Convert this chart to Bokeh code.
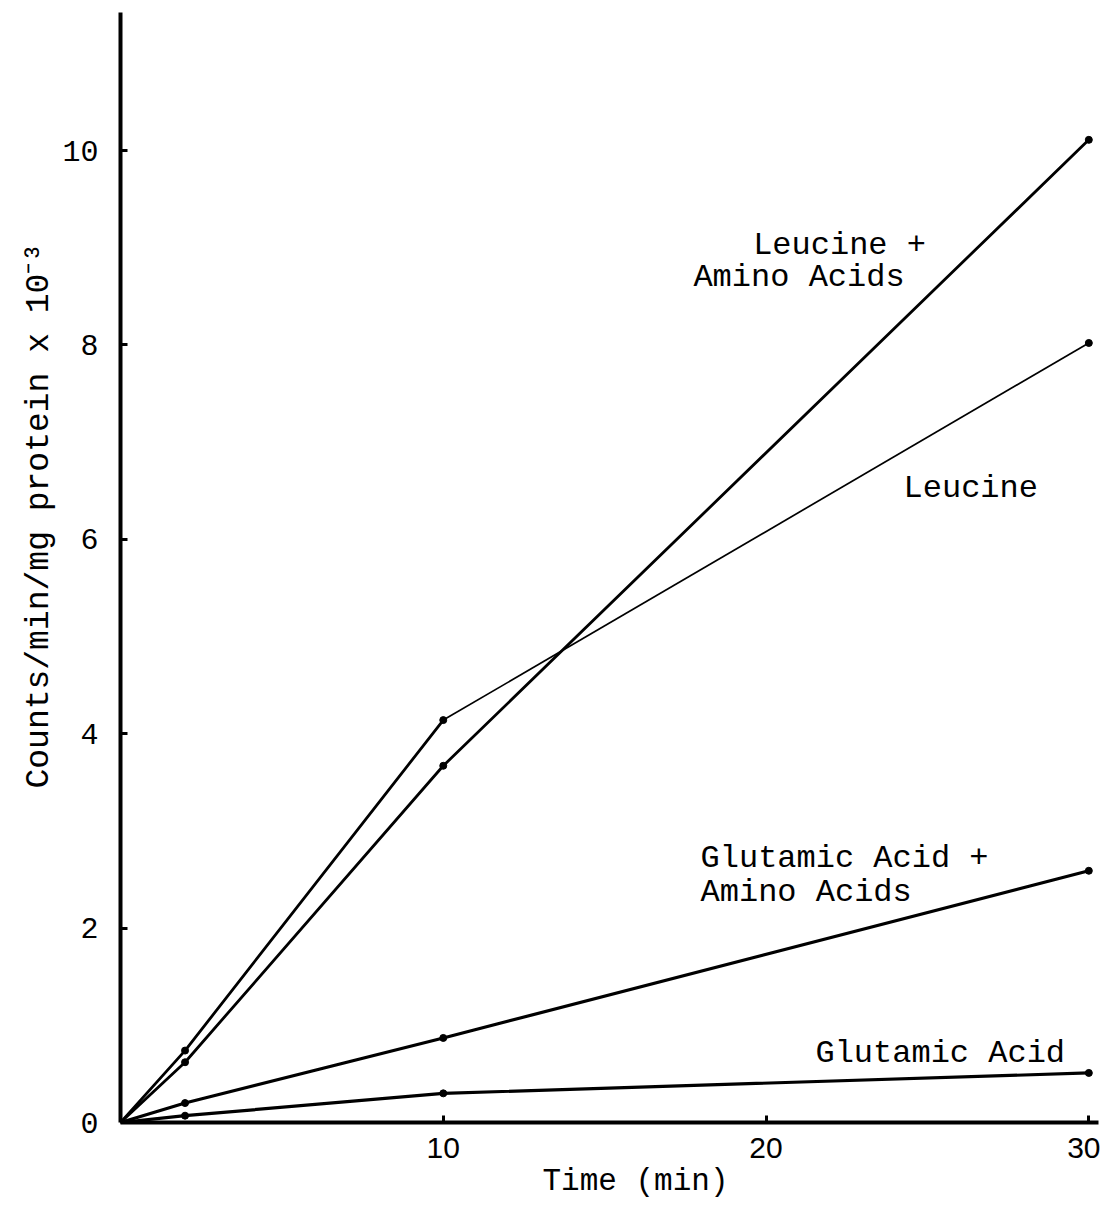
from bokeh.plotting import figure
from bokeh.models import Range1d, FixedTicker, Label, ColumnDataSource, Title
from bokeh.embed import file_html
from bokeh.resources import INLINE

# ---- data ----
time_min = [0, 2, 10, 30]
leucine = [0, 0.74, 4.14, 8.02]
leucine_aa = [0, 0.62, 3.67, 10.11]
glutamic_aa = [0, 0.20, 0.87, 2.59]
glutamic = [0, 0.07, 0.30, 0.51]

x_ticks = [10, 20, 30]
y_ticks = [0, 2, 4, 6, 8, 10]

FONT = "Liberation Mono"

p = figure(width=1100, height=1210, output_backend="svg", toolbar_location=None,
           x_range=Range1d(0, 30.3), y_range=Range1d(0, 11.42),
           min_border_left=120, min_border_right=2, min_border_top=12, min_border_bottom=88)
p.outline_line_color = None
p.xgrid.visible = False
p.ygrid.visible = False
p.background_fill_color = "white"
p.border_fill_color = "white"

for ax in (p.xaxis[0], p.yaxis[0]):
    ax.axis_line_width = 4
    ax.axis_line_color = "black"
    ax.major_tick_in = 7
    ax.major_tick_out = 0
    ax.major_tick_line_width = 3
    ax.minor_tick_line_color = None
    ax.major_label_text_color = "black"

p.xaxis.ticker = FixedTicker(ticks=x_ticks)
p.yaxis.ticker = FixedTicker(ticks=y_ticks)
p.xaxis.major_label_text_font = "Liberation Sans"
p.xaxis.major_label_text_font_size = "30px"
p.yaxis.major_label_text_font = FONT
p.yaxis.major_label_text_font_size = "30px"
p.xaxis.major_label_standoff = 15
p.yaxis.major_label_standoff = 22

# x-axis title (below) and rotated y-axis title (left)
p.add_layout(Title(text="Time (min)", text_font=FONT, text_font_size="31px",
                   text_font_style="normal", text_color="black",
                   align="left", offset=422, standoff=2), "below")
p.add_layout(Title(text="Counts/min/mg protein x 10⁻³", text_font=FONT,
                   text_font_size="33px", text_font_style="normal", text_color="black",
                   align="left", offset=334, standoff=4), "left")

series = [
    (glutamic_aa, 3.2),
    (glutamic, 3.2),
]
for ys, lw in series:
    src = ColumnDataSource(dict(x=time_min, y=ys))
    p.line("x", "y", source=src, line_color="black", line_width=lw)
    p.scatter("x", "y", source=src, size=7, color="black")

# Leucine + amino acids: heavy line throughout
src_laa = ColumnDataSource(dict(x=time_min, y=leucine_aa))
p.line("x", "y", source=src_laa, line_color="black", line_width=2.8)
p.scatter("x", "y", source=src_laa, size=7, color="black")

# Leucine: heavy up to 10 min, lighter afterwards (as drawn)
p.line(time_min[:3], leucine[:3], line_color="black", line_width=2.8)
p.line(time_min[2:], leucine[2:], line_color="black", line_width=1.7)
p.scatter(time_min, leucine, size=7, color="black")

def lab(text, x, y, size="32px"):
    p.add_layout(Label(x=x, y=y, text=text, text_font=FONT, text_font_size=size,
                       text_color="black", text_baseline="alphabetic"))

lab("Leucine +", 19.6, 9.02)
lab("Amino Acids", 17.75, 8.69)
lab("Leucine", 24.26, 6.52)
lab("Glutamic Acid +", 17.97, 2.72)
lab("Amino Acids", 17.97, 2.37)
lab("Glutamic Acid", 21.53, 0.71)

open("out.html", "w").write(file_html(p, INLINE))
